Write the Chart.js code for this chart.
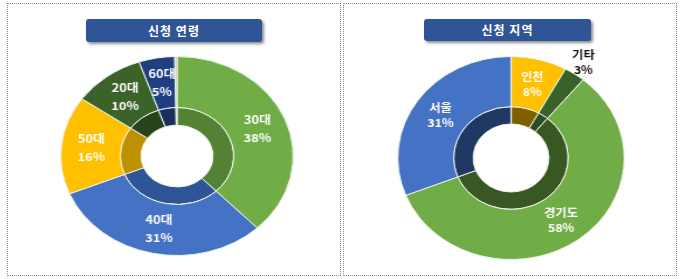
<!DOCTYPE html>
<html>
<head>
<meta charset="utf-8">
<script src="https://cdn.jsdelivr.net/npm/chart.js@4"></script>
<style>
body{margin:0;width:680px;height:279px;background:#fff;position:relative;overflow:hidden;font-family:"Noto Sans CJK KR",sans-serif;}
.panel{position:absolute;top:3px;height:271px;border:1px dotted #8a8a8a;}
.banner{position:absolute;top:19px;height:23px;background:#2f5597;border-radius:3px;box-shadow:2px 2px 3px rgba(0,0,0,.45);color:#fff;font-weight:bold;font-size:12px;line-height:23px;text-align:center;letter-spacing:1px;}
.wrap{position:absolute;width:240px;height:240px;transform-origin:50% 50%;}
</style>
</head>
<body>
<div class="panel" style="left:7px;width:332px;"></div>
<div class="panel" style="left:343px;width:332px;"></div>
<div class="banner" style="left:86px;width:176px;">신청 연령</div>
<div class="banner" style="left:424px;width:167px;height:22px;line-height:22px;">신청 지역</div>
<div class="wrap" style="left:57px;top:36px;transform:scaleX(1.168);"><canvas id="ageChart" width="240" height="240"></canvas></div>
<div class="wrap" style="left:391px;top:38px;transform:scaleX(1.115);"><canvas id="regionChart" width="240" height="240"></canvas></div>
<script>
// 신청 연령
const ageLabels = ["30대", "40대", "50대", "20대", "60대", "기타"];
const ageValues = [38, 31, 16, 10, 5, 0.3];
const ageColors = ["#70ad47", "#4472c4", "#ffc000", "#3b6329", "#203f80", "#cdb98a"];
const ageInner = ["#548235", "#2f5597", "#bf9000", "#27431b", "#1a2f5e", "#a8966a"];

// 신청 지역
const regionLabels = ["인천", "기타", "경기도", "서울"];
const regionValues = [8, 3, 58, 31];
const regionColors = ["#ffc000", "#38622a", "#70ad47", "#4472c4"];
const regionInner = ["#7f6000", "#2c4d20", "#385723", "#1f3864"];

// 라벨 그리기
const sliceLabels = {
    id: "sliceLabels",
    afterDatasetsDraw(chart, args, opts) {
        const ctx = chart.ctx;
        const meta = chart.getDatasetMeta(0);
        const values = chart.data.datasets[0].data;
        ctx.save();
        ctx.font = "bold 11px 'Noto Sans CJK KR'";
        ctx.textAlign = "center";
        ctx.textBaseline = "middle";
        meta.data.forEach((arc, i) => {
            if (values[i] < 1) return;
            const p = arc.getProps(["x", "y", "startAngle", "endAngle", "innerRadius", "outerRadius"]);
            const mid = (p.startAngle + p.endAngle) / 2;
            const outside = opts.outside.includes(i);
            const r = outside ? p.outerRadius + 14 : (p.innerRadius + p.outerRadius) / 2;
            const cx = p.x + Math.cos(mid) * r;
            const cy = p.y + Math.sin(mid) * r;
            ctx.fillStyle = outside ? "#111" : "#fff";
            ctx.fillText(chart.data.labels[i], cx, cy - opts.gap / 2);
            ctx.fillText(values[i] + "%", cx, cy + opts.gap / 2);
        });
        ctx.restore();
    }
};

function makeDoughnut(id, labels, values, colors, inner, cutout, pad, gap, outside) {
    new Chart(document.getElementById(id), {
        type: "doughnut",
        data: {
            labels: labels,
            datasets: [
                { data: values, backgroundColor: colors, borderColor: "#eef3ea", borderWidth: 1, weight: 50.5 },
                { data: values, backgroundColor: inner, borderColor: "#eef3ea", borderWidth: 1, weight: 17.5 }
            ]
        },
        options: {
            responsive: false,
            animation: false,
            cutout: cutout,
            layout: { padding: pad },
            plugins: {
                legend: { display: false },
                tooltip: { enabled: false },
                sliceLabels: { gap: gap, outside: outside }
            }
        },
        plugins: [sliceLabels]
    });
}

makeDoughnut("ageChart", ageLabels, ageValues, ageColors, ageInner, "31%", 20, 18, []);
makeDoughnut("regionChart", regionLabels, regionValues, regionColors, regionInner, "33.5%", 18, 15, [1]);
</script>
</body>
</html>
